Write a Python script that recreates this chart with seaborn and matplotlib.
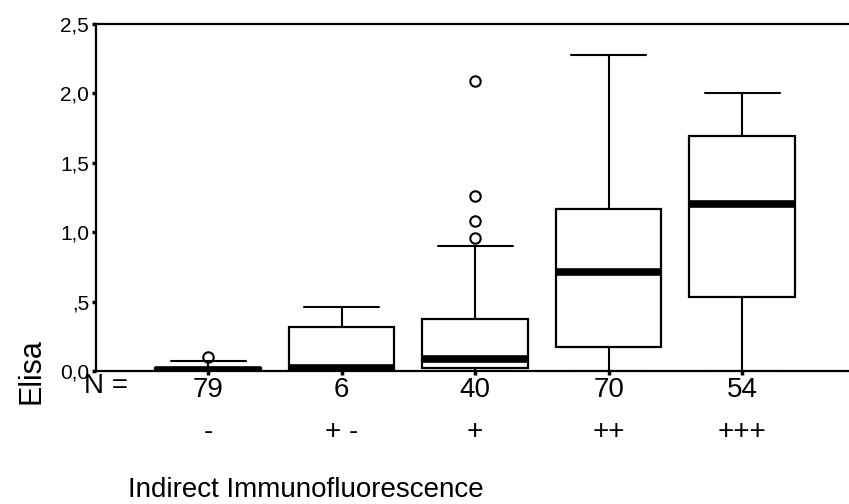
import matplotlib
matplotlib.use("Agg")
import matplotlib.pyplot as plt
import seaborn as sns

# ---- data ----
categories = ['-', '+ -', '+', '++', '+++']
counts = [79, 6, 40, 70, 54]
q1 = [0.0, 0.0, 0.02, 0.17, 0.535]
medians = [0.01, 0.02, 0.09, 0.71, 1.20]
q3 = [0.02, 0.32, 0.375, 1.165, 1.69]
whisker_low = [0.0, 0.0, 0.0, 0.0, 0.0]
whisker_high = [0.07, 0.46, 0.90, 2.28, 2.00]
outliers = [[0.10], [], [2.09, 1.26, 1.08, 0.96], [], []]
y_ticks = [0.0, 0.5, 1.0, 1.5, 2.0, 2.5]
y_ticklabels = ['0,0', ',5', '1,0', '1,5', '2,0', '2,5']

sns.set_style("ticks")
plt.rcParams['font.family'] = ['Liberation Sans', 'DejaVu Sans']
plt.rcParams['text.color'] = 'black'
plt.rcParams['axes.labelcolor'] = 'black'
plt.rcParams['xtick.color'] = 'black'
plt.rcParams['ytick.color'] = 'black'

fig = plt.figure(figsize=(8.49, 5.04), dpi=100)
W, H = 849, 504
ax = fig.add_axes([96 / W, 133 / H, (849 - 96) / W, 347 / H])

stats = []
for i in range(len(categories)):
    stats.append(dict(med=medians[i], q1=q1[i], q3=q3[i],
                      whislo=whisker_low[i], whishi=whisker_high[i],
                      fliers=outliers[i], label=str(counts[i])))

ax.bxp(stats, positions=list(range(len(categories))), widths=0.79,
       capwidths=0.56, patch_artist=True, manage_ticks=False,
       boxprops=dict(facecolor='white', edgecolor='black', linewidth=1.6),
       medianprops=dict(color='black', linewidth=5.5, solid_capstyle='butt'),
       whiskerprops=dict(color='black', linewidth=1.5),
       capprops=dict(color='black', linewidth=1.5),
       flierprops=dict(marker='o', markerfacecolor='none', markeredgecolor='black',
                       markersize=7.5, markeredgewidth=1.5))

ax.set_xlim(-0.84, 4.80)
ax.set_ylim(0, 2.5)
ax.set_yticks(y_ticks)
ax.set_yticklabels(y_ticklabels, fontsize=15, color='black')
ax.set_xticks(list(range(len(categories))))
ax.set_xticklabels([str(c) for c in counts], fontsize=20, color='black')
ax.tick_params(axis='both', direction='out', length=3, width=2.5, color='black', pad=2)
ax.tick_params(axis='x', pad=1)

for s in ['left', 'top', 'bottom']:
    ax.spines[s].set_visible(True)
    ax.spines[s].set_linewidth(1.6)
    ax.spines[s].set_color('black')
ax.spines['right'].set_visible(False)

# second row of category labels
for i, cat in enumerate(categories):
    ax.text(i, -0.175, cat, transform=ax.get_xaxis_transform(),
            ha='center', va='center', fontsize=20, color='black')

fig.text(84 / W, 1 - 386 / H, 'N =', ha='left', va='center', fontsize=20, color='black')
ax.set_ylabel('Elisa', fontsize=22, labelpad=2, color='black')
ax.yaxis.set_label_coords(-0.066, 0.0)
fig.text(128 / W, 1 - 490 / H, 'Indirect Immunofluorescence', ha='left', va='center',
         fontsize=20, color='black')

fig.savefig('out.png', dpi=100, facecolor='white')
